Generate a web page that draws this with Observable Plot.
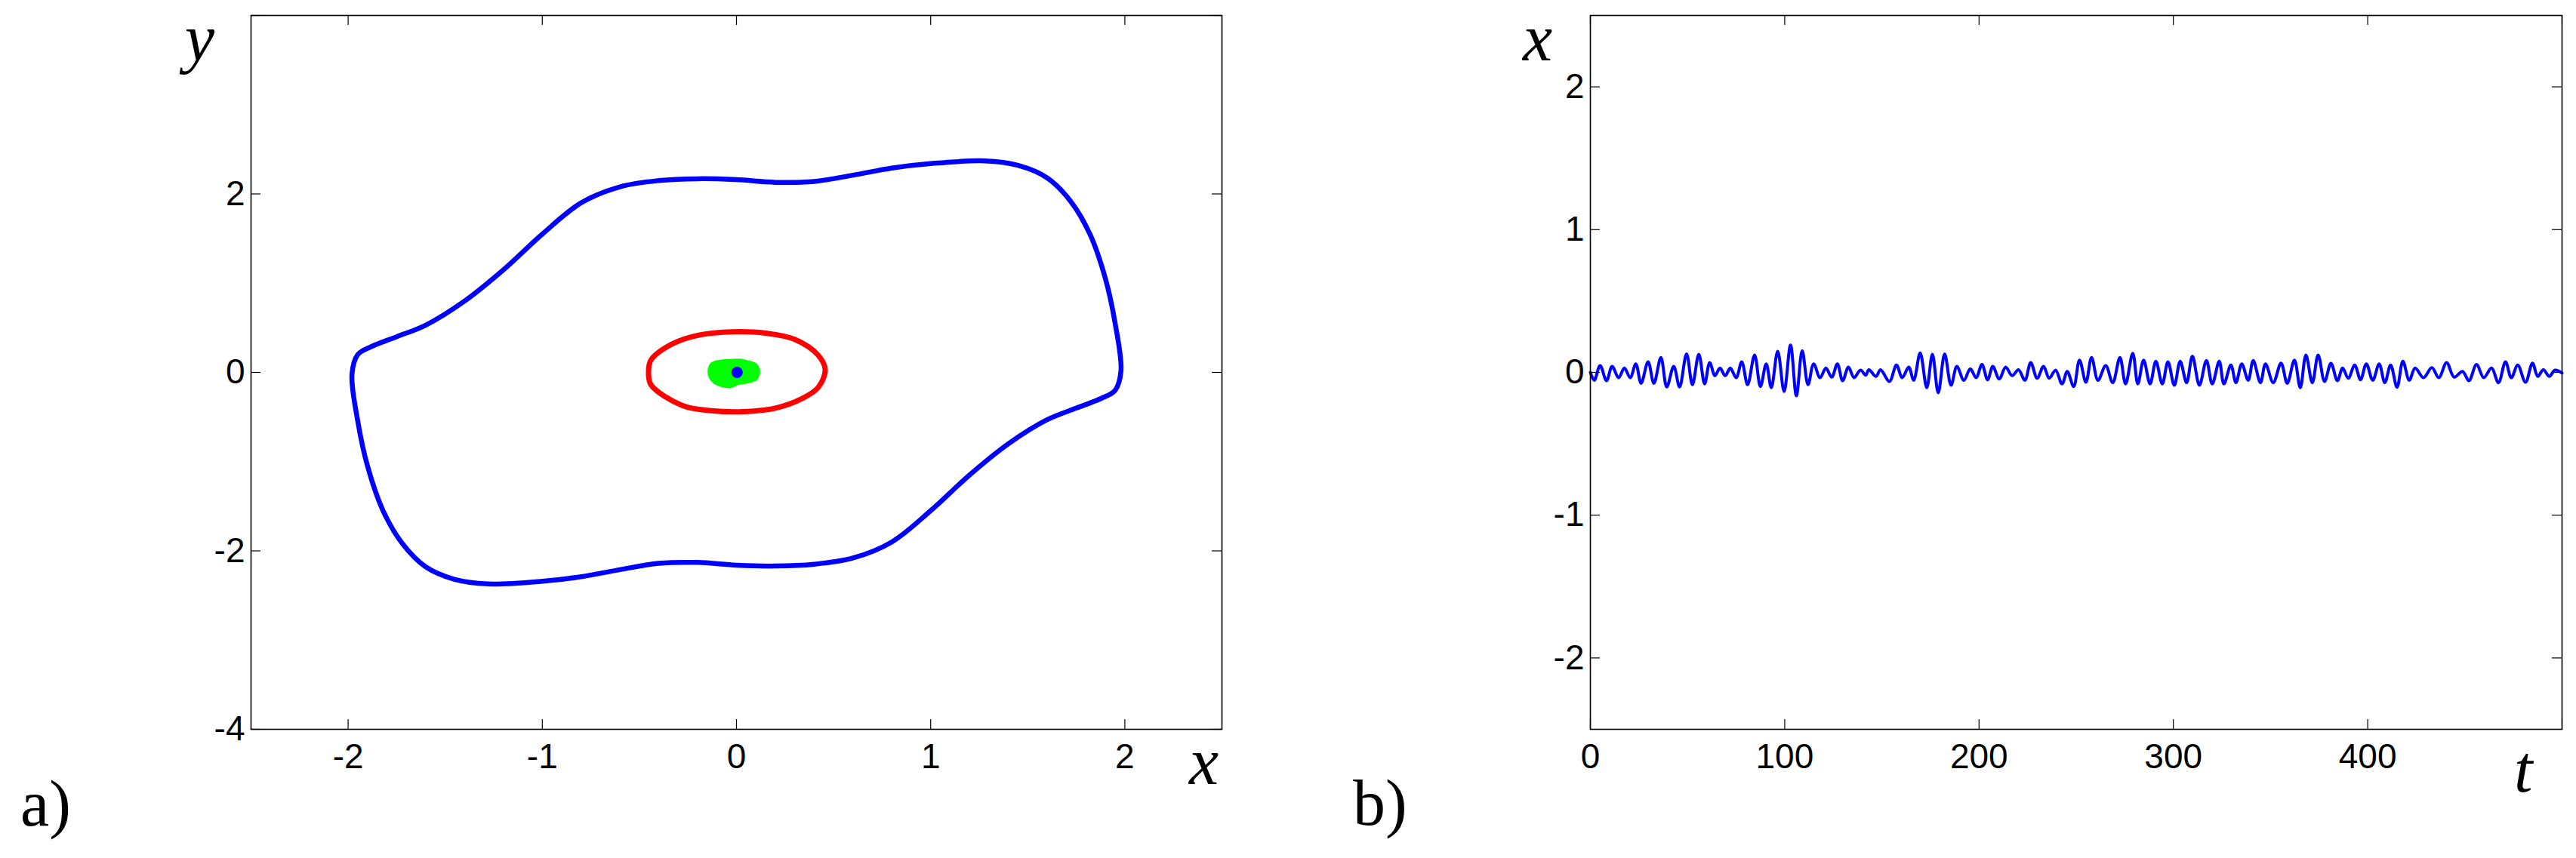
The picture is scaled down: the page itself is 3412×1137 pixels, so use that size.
<!DOCTYPE html>
<html>
<head>
<meta charset="utf-8">
<script src="https://cdn.jsdelivr.net/npm/d3@7"></script>
<script src="https://cdn.jsdelivr.net/npm/@observablehq/plot@0.6"></script>
<style>
  html, body { margin: 0; padding: 0; background: #fff; }
  #wrap { position: relative; width: 3412px; height: 1137px; overflow: hidden; background: #fff; }
  .pane { position: absolute; top: 0; }
  .lab { position: absolute; font-family: "Liberation Serif", "DejaVu Serif", serif; line-height: 1; white-space: nowrap; color: #000; }
  .it { font-style: italic; }
</style>
</head>
<body>
<div id="wrap">
  <div class="pane" id="pa" style="left:0px"></div>
  <div class="pane" id="pb" style="left:1700px"></div>
</div>
<script>
// ---------- Panel a: phase portrait ----------
const aXTicks = [-2, -1, 0, 1, 2];
const aYTickMarks = [-4, -2, 0, 2, 4];
const aYTickLabels = [-4, -2, 0, 2];

// outer blue limit cycle
const blueX = [-1.98, -1.95, -1.88, -1.75, -1.60, -1.40, -1.20, -1.00, -0.80, -0.60, -0.40, -0.20, 0.00, 0.20, 0.40, 0.60, 0.80, 1.00, 1.28, 1.45, 1.60, 1.72, 1.82, 1.90, 1.95,
  1.98, 1.95, 1.88, 1.75, 1.60, 1.40, 1.20, 1.00, 0.80, 0.60, 0.40, 0.20, 0.00, -0.20, -0.40, -0.60, -0.80, -1.00, -1.28, -1.45, -1.60, -1.72, -1.82, -1.90, -1.95];
const blueY = [-0.02, 0.20, 0.29, 0.40, 0.53, 0.80, 1.15, 1.55, 1.90, 2.08, 2.15, 2.17, 2.16, 2.13, 2.14, 2.21, 2.29, 2.34, 2.37, 2.32, 2.18, 1.92, 1.55, 1.05, 0.55,
  0.02, -0.20, -0.29, -0.40, -0.53, -0.80, -1.15, -1.55, -1.90, -2.08, -2.15, -2.17, -2.16, -2.13, -2.14, -2.21, -2.29, -2.34, -2.37, -2.32, -2.18, -1.92, -1.55, -1.05, -0.55];

// red cycle
const redX = [-0.453, -0.44, -0.33, -0.19, -0.02, 0.15, 0.30, 0.42, 0.457, 0.42, 0.34, 0.20, 0.04, -0.13, -0.28, -0.44];
const redY = [0.00, 0.14, 0.32, 0.42, 0.455, 0.44, 0.37, 0.195, 0.03, -0.17, -0.29, -0.40, -0.44, -0.43, -0.37, -0.14];

// green attractor blob
const greenX = [-0.143, -0.13, -0.11, -0.071, -0.032, 0.019, 0.065, 0.097, 0.114, 0.113, 0.097, 0.058, 0.006, -0.032, -0.078, -0.117, -0.136];
const greenY = [0.00, 0.096, 0.118, 0.133, 0.138, 0.141, 0.118, 0.096, 0.04, -0.031, -0.082, -0.11, -0.13, -0.164, -0.15, -0.11, -0.06];

// blue equilibrium point
const eqX = [0.003];
const eqY = [0.0];

// ---------- Panel b: time series ----------
const bXTicks = [0, 100, 200, 300, 400];
const bXTickMarks = [0, 100, 200, 300, 400, 500];
const bYTicks = [-2, -1, 0, 1, 2];

const tVals = [0.0, 2.0, 5.0, 8.3, 11.2, 14.5, 17.5, 20.5, 23.4, 26.1, 29.7, 32.7, 36.3, 39.3, 42.9, 45.9, 49.5, 52.5, 55.8, 58.8,
  61.4, 64.1, 66.7, 69.4, 72.0, 75.0, 77.9, 80.9, 84.5, 87.5, 90.5, 93.1, 96.4, 99.7, 103.0, 106.0, 109.0, 112.0, 114.9, 118.2,
  121.2, 124.2, 127.1, 129.8, 132.8, 135.7, 139.0, 141.7, 143.3, 147.0, 149.3, 153.9, 157.5, 160.5, 163.8, 166.4, 169.7, 173.1, 176.0, 179.0,
  182.3, 185.6, 188.6, 192.2, 195.5, 198.5, 201.5, 204.4, 207.1, 210.4, 213.7, 217.0, 220.3, 223.6, 226.6, 229.9, 233.2, 236.1, 239.4, 242.7,
  245.4, 248.7, 251.7, 255.0, 257.9, 261.2, 265.2, 268.8, 272.5, 275.4, 279.1, 281.7, 284.7, 288.0, 291.0, 294.3, 297.2, 300.5, 303.5, 306.8,
  309.8, 313.4, 317.0, 320.0, 323.6, 326.0, 329.6, 332.2, 335.2, 338.5, 341.1, 344.8, 347.4, 351.4, 355.4, 358.6, 362.3, 365.3, 368.2, 371.5,
  374.5, 377.8, 381.1, 384.4, 387.1, 390.0, 393.3, 396.3, 399.3, 402.6, 405.9, 408.8, 411.8, 415.1, 418.1, 421.4, 424.4, 428.7, 433.0, 436.6,
  440.6, 444.5, 448.8, 452.1, 456.0, 459.7, 463.7, 467.3, 470.9, 473.9, 477.2, 481.2, 484.8, 487.5, 490.4, 493.4, 496.4, 500.0];
const xVals = [0.000, -0.055, 0.048, -0.058, 0.042, -0.037, 0.030, -0.037, 0.060, -0.076, 0.074, -0.076, 0.104, -0.102, 0.042, -0.102, 0.130, -0.086, 0.127, -0.081,
  0.069, -0.023, 0.030, -0.023, 0.030, -0.037, 0.074, -0.086, 0.122, -0.099, 0.060, -0.107, 0.148, -0.134, 0.192, -0.164, 0.152, -0.086, 0.060, -0.037,
  0.030, -0.033, 0.060, -0.058, 0.037, -0.037, 0.016, -0.019, 0.019, -0.028, 0.019, -0.063, 0.051, -0.037, 0.037, -0.055, 0.136, -0.107, 0.127, -0.143,
  0.130, -0.090, 0.042, -0.055, 0.025, -0.037, 0.055, -0.051, 0.042, -0.046, 0.037, -0.023, 0.019, -0.055, 0.069, -0.041, 0.042, -0.041, 0.016, -0.081,
  0.007, -0.099, 0.086, -0.069, 0.104, -0.055, 0.048, -0.072, 0.104, -0.081, 0.134, -0.081, 0.086, -0.081, 0.078, -0.081, 0.074, -0.090, 0.078, -0.072,
  0.113, -0.090, 0.083, -0.081, 0.078, -0.081, 0.051, -0.072, 0.060, -0.055, 0.083, -0.072, 0.060, -0.072, 0.065, -0.076, 0.086, -0.107, 0.122, -0.072,
  0.122, -0.063, 0.063, -0.058, 0.030, -0.041, 0.051, -0.051, 0.060, -0.055, 0.060, -0.072, 0.051, -0.104, 0.078, -0.055, 0.030, -0.037, 0.033, -0.037,
  0.069, -0.033, 0.007, -0.058, 0.055, -0.037, 0.030, -0.072, 0.074, -0.037, 0.051, -0.069, 0.065, -0.028, 0.019, -0.028, 0.016, -0.005];

// ---------- build ----------
const pts = (xs, ys) => xs.map((x, i) => ({x, y: ys[i]}));
const fmt = d => String(d);
const FONT = "'Liberation Sans', Arial, Helvetica, sans-serif";
const TICK = 13;

function framedPlot({width, height, mL, mR, mT, mB, xDomain, yDomain, xTickMarks, yTickMarks, xLabels, yLabels, marks}) {
  const iw = width - mL - mR, ih = height - mT - mB;
  return Plot.plot({
    width, height,
    marginLeft: mL, marginRight: mR, marginTop: mT, marginBottom: mB,
    x: {domain: xDomain, axis: null, label: null},
    y: {domain: yDomain, axis: null, label: null},
    style: {fontFamily: FONT, fontSize: "46px", background: "white", color: "black", overflow: "visible"},
    marks: [
      ...marks,
      Plot.tickX(xTickMarks, {x: d => d, insetTop: ih - TICK, stroke: "black", strokeWidth: 1.2}),
      Plot.tickX(xTickMarks, {x: d => d, insetBottom: ih - TICK, stroke: "black", strokeWidth: 1.2}),
      Plot.tickY(yTickMarks, {y: d => d, insetRight: iw - TICK, stroke: "black", strokeWidth: 1.2}),
      Plot.tickY(yTickMarks, {y: d => d, insetLeft: iw - TICK, stroke: "black", strokeWidth: 1.2}),
      Plot.frame({stroke: "black", strokeWidth: 1.6}),
      Plot.axisX({ticks: xLabels, tickSize: 0, tickPadding: 19, tickFormat: fmt, fontSize: 46, anchor: "bottom", label: null}),
      Plot.axisY({ticks: yLabels, tickSize: 0, tickPadding: 8, tickFormat: fmt, fontSize: 46, anchor: "left", label: null})
    ]
  });
}

const chartA = framedPlot({
  width: 1700, height: 1137, mL: 332, mR: 82, mT: 20, mB: 171,
  xDomain: [-2.5, 2.5], yDomain: [-4, 4],
  xTickMarks: aXTicks, yTickMarks: aYTickMarks, xLabels: aXTicks, yLabels: aYTickLabels,
  marks: [
    Plot.line(pts(blueX, blueY), {x: "x", y: "y", stroke: "#0000ff", strokeWidth: 6.5, curve: "catmull-rom-closed"}),
    Plot.line(pts(redX, redY), {x: "x", y: "y", stroke: "#ff0000", strokeWidth: 7, curve: "catmull-rom-closed"}),
    Plot.line(pts(greenX, greenY), {x: "x", y: "y", stroke: "#00ff00", fill: "#00ff00", strokeWidth: 3, curve: "catmull-rom-closed"}),
    Plot.dot(pts(eqX, eqY), {x: "x", y: "y", r: 7.5, fill: "#0000ff", stroke: "none"})
  ]
});
document.getElementById("pa").appendChild(chartA);

const chartB = framedPlot({
  width: 1712, height: 1137, mL: 406, mR: 19, mT: 20, mB: 171,
  xDomain: [0, 500], yDomain: [-2.5, 2.5],
  xTickMarks: bXTickMarks, yTickMarks: bYTicks, xLabels: bXTicks, yLabels: bYTicks,
  marks: [
    Plot.line(pts(tVals, xVals), {x: "x", y: "y", stroke: "#0000ff", strokeWidth: 4, curve: "catmull-rom"})
  ]
});
document.getElementById("pb").appendChild(chartB);

// ---------- text labels ----------
const FS = 88;
function addLabel(text, left, baseline, italic, size) {
  const d = document.createElement("div");
  d.className = "lab" + (italic ? " it" : "");
  d.textContent = text;
  d.style.fontSize = size + "px";
  d.style.left = left + "px";
  d.style.top = (baseline - 0.8375 * size) + "px";
  document.getElementById("wrap").appendChild(d);
}
addLabel("y", 245, 81, true, FS);
addLabel("x", 1575, 1040, true, FS);
addLabel("x", 2017, 81, true, FS);
addLabel("t", 3330, 1050, true, FS);
addLabel("a)", 27, 1094, false, 86);
addLabel("b)", 1792, 1093, false, 86);
</script>
</body>
</html>
